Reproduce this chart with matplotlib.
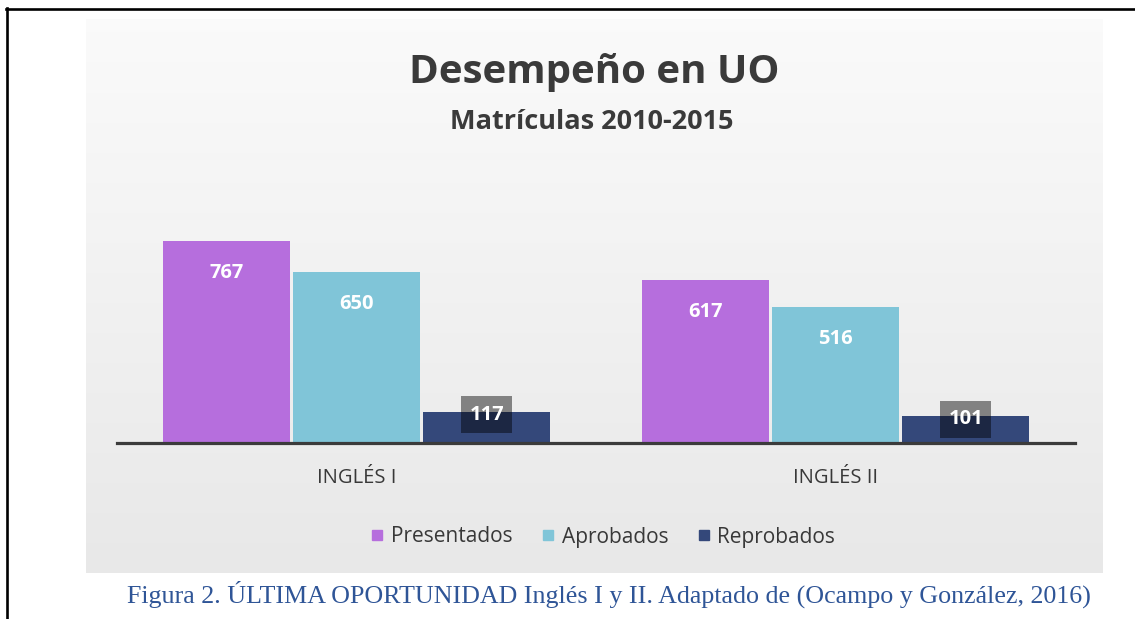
#!/usr/bin/env python3
"""
Desempeño en UO - bar chart with caption.
"""

import numpy as np
import matplotlib
matplotlib.use("Agg")
import matplotlib.pyplot as plt
from matplotlib.lines import Line2D

categories = ["INGLÉS I", "INGLÉS II"]
series = ["Presentados", "Aprobados", "Reprobados"]
presentados = [767, 617]
aprobados = [650, 516]
reprobados = [117, 101]

colors = ["#b66edd", "#80c5d8", "#34487a"]

W, H = 1135, 619
plt.rcParams["font.family"] = ["Open Sans", "DejaVu Sans"]

fig = plt.figure(figsize=(W / 100, H / 100), dpi=100)
fig.patch.set_facecolor("white")


def fx(px):
    return px / W


def fy(py):
    return 1 - py / H


# page border (top and left only)
fig.add_artist(Line2D([fx(6), 1.0], [fy(9), fy(9)], color="black", lw=1.9))
fig.add_artist(Line2D([fx(7), fx(7)], [fy(8), 0.0], color="black", lw=1.9))

# light gray panel with a slight vertical gradient
bg = fig.add_axes([fx(86), fy(573), fx(1103 - 86), (573 - 19) / H], zorder=0)
grad = np.linspace(0, 1, 256).reshape(-1, 1)
top = np.array([0.982, 0.982, 0.982])
bot = np.array([0.91, 0.91, 0.91])
img = top + grad[..., None] * (bot - top)
bg.imshow(img, aspect="auto", extent=[0, 1, 0, 1])
bg.set_axis_off()

# main axes
ax = fig.add_axes([fx(117), fy(443), fx(1075 - 117), 243 / H], zorder=1)
ax.patch.set_alpha(0)

x = np.arange(len(categories))
step = 0.2717
width = 0.266
data = [presentados, aprobados, reprobados]

for i, (name, vals, col) in enumerate(zip(series, data, colors)):
    bars = ax.bar(x + (i - 1) * step, vals, width, color=col, label=name, zorder=2)
    for b, v in zip(bars, vals):
        cx = b.get_x() + b.get_width() / 2
        if v > 300:
            ax.annotate(str(v), (cx, v), xytext=(0, -23), textcoords="offset points",
                        ha="center", va="center", color="white",
                        fontsize=14.5, fontweight="bold", zorder=3)
        else:
            ax.annotate(str(v), (cx, v), xytext=(0, -2), textcoords="offset points",
                        ha="center", va="center", color="white",
                        fontsize=14.5, fontweight="bold", zorder=3,
                        bbox=dict(boxstyle="square,pad=0.42", fc="black",
                                  ec="none", alpha=0.45))

ax.set_xlim(-0.5, 1.5)
ax.set_ylim(0, 922)
for side in ["top", "left", "right"]:
    ax.spines[side].set_visible(False)
ax.spines["bottom"].set_color("#3b3b3b")
ax.spines["bottom"].set_linewidth(2.3)
ax.spines["bottom"].set_zorder(4)
ax.set_yticks([])
ax.set_xticks(x)
ax.set_xticklabels(categories, fontsize=14.5, color="#383838")
ax.tick_params(axis="x", length=0, pad=18)

# titles
fig.text(fx(594), fy(72), "Desempeño en UO", ha="center", va="center",
         fontsize=29, fontweight="bold", color="#3a3a3a")
fig.text(fx(592), fy(122), "Matrículas 2010-2015", ha="center", va="center",
         fontsize=19.5, fontweight="bold", color="#3a3a3a")

# legend
handles = [Line2D([], [], marker="s", ls="none", ms=7.5, color=c) for c in colors]
fig.legend(handles, series, loc="center", bbox_to_anchor=(fx(602), fy(537)),
           ncol=3, frameon=False, fontsize=15, handletextpad=0.26,
           columnspacing=1.3, handlelength=0.8, labelcolor="#383838")

# caption
fig.text(fx(609), fy(594),
         "Figura 2. ÚLTIMA OPORTUNIDAD Inglés I y II. Adaptado de (Ocampo y González, 2016)",
         ha="center", va="center", fontsize=18.7, color="#2f5597",
         family=["Liberation Serif", "DejaVu Serif"])

fig.savefig("out.png", dpi=100)
plt.close(fig)
